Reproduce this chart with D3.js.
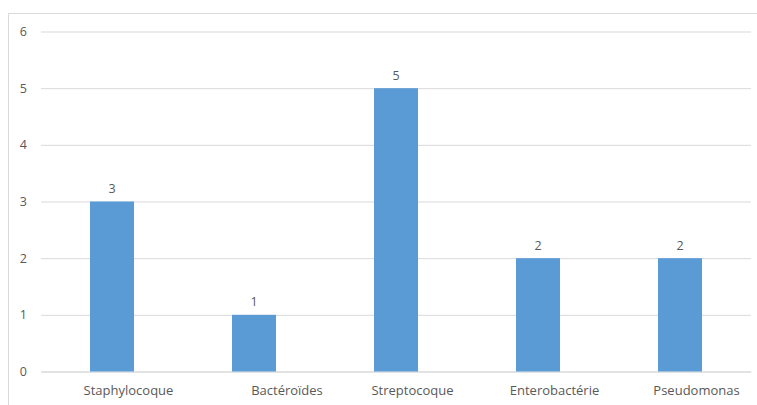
<!DOCTYPE html>
<html>
<head>
<meta charset="utf-8">
<script src="https://cdn.jsdelivr.net/npm/d3@7/dist/d3.min.js"></script>
<style>
  html, body { margin: 0; padding: 0; background: #fff; }
  svg { display: block; }
  text { font-family: "Open Sans", "Liberation Sans", sans-serif; fill: #595959; }
</style>
</head>
<body>
<svg id="chart" width="757" height="405"></svg>
<script>
// Bacterial species counts
const categories = ["Staphylocoque", "Bactéroïdes", "Streptocoque", "Enterobactérie", "Pseudomonas"];
const counts = [3, 1, 5, 2, 2];
const yTicks = [0, 1, 2, 3, 4, 5, 6];

const svg = d3.select("#chart");
const W = 757, H = 405;
const FONT = "Open Sans, Liberation Sans, sans-serif";

// Chart area frame (top and left edges visible)
svg.append("line").attr("x1", 8.5).attr("x2", W).attr("y1", 13.5).attr("y2", 13.5)
  .attr("stroke", "#d9d9d9").attr("stroke-width", 1);
svg.append("line").attr("x1", 8.5).attr("x2", 8.5).attr("y1", 13.5).attr("y2", H)
  .attr("stroke", "#d9d9d9").attr("stroke-width", 1);

const x = d3.scaleBand().domain(categories).range([41, 751])
  .paddingInner(0.69).paddingOuter(0.345);
const y = d3.scaleLinear().domain([0, 6]).range([371.5, 31.5]);

// Horizontal gridlines and value axis labels
const yAxis = d3.axisLeft(y).tickValues(yTicks).tickFormat(d3.format("d"))
  .tickSize(-(751 - 41)).tickPadding(14);
const gy = svg.append("g").attr("transform", "translate(41,0)").call(yAxis);
gy.select(".domain").remove();
gy.selectAll(".tick line").attr("stroke", "#d9d9d9").attr("stroke-width", 1);
gy.selectAll(".tick text").attr("font-size", 12.5).style("fill", "#595959")
  .attr("font-family", FONT);

// Category axis (labels sit slightly right of the bar centres)
const xAxis = d3.axisBottom(x).tickSize(0);
const gx = svg.append("g").attr("transform", "translate(0,371.5)").call(xAxis);
gx.select(".domain").attr("stroke", "#d9d9d9");
gx.selectAll(".tick text")
  .attr("font-size", 13).style("fill", "#595959").attr("font-family", FONT)
  .attr("y", 23.5).attr("dy", 0)
  .attr("dx", d => d === "Bactéroïdes" ? 33 : 16.5);

// Bars
svg.append("g").selectAll("rect").data(categories).join("rect")
  .attr("x", d => x(d))
  .attr("width", x.bandwidth())
  .attr("y", (d, i) => y(counts[i]))
  .attr("height", (d, i) => y(0) - y(counts[i]))
  .attr("fill", "#5b9bd5");

// Value labels
svg.append("g").selectAll("text").data(categories).join("text")
  .attr("x", d => x(d) + x.bandwidth() / 2)
  .attr("y", (d, i) => y(counts[i]) - 8.5)
  .attr("text-anchor", "middle")
  .attr("font-size", 12.5)
  .text((d, i) => counts[i]);
</script>
</body>
</html>
